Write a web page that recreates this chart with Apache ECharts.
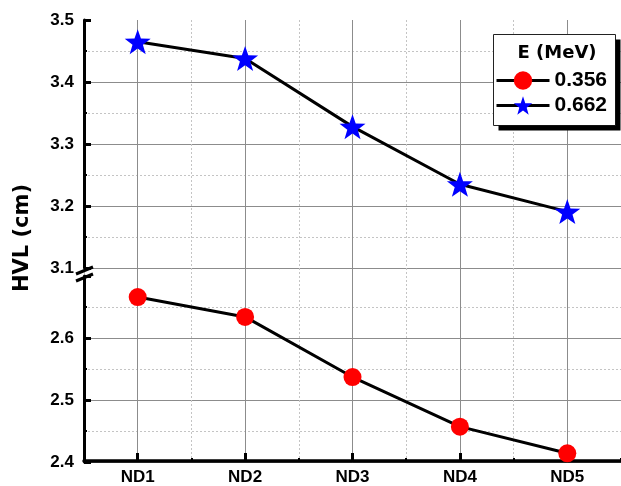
<!DOCTYPE html>
<html><head><meta charset="utf-8">
<script src="https://cdn.jsdelivr.net/npm/echarts@6/dist/echarts.min.js"></script>
<style>html,body{margin:0;padding:0;background:#fff}#c{width:621px;height:486px}</style>
</head><body><div id="c"></div>
<script>
// ---- data ----
const categories = ['ND1', 'ND2', 'ND3', 'ND4', 'ND5'];
const seriesNames = ['0.356', '0.662'];
const hvl0356 = [2.666, 2.634, 2.537, 2.457, 2.414];
const hvl0662 = [3.465, 3.438, 3.328, 3.235, 3.191];
const upperRange = [3.1, 3.5];
const lowerRange = [2.4, 2.7];
const yStep = 0.1;
const legendTitle = 'E (MeV)';
const yTitle = 'HVL (cm)';

// ---- styles ----
const numFont = 'Liberation Sans, Arial, sans-serif';
const titleFont = 'DejaVu Sans, sans-serif';
const STAR = 'path://M0,-10 L2.35,-3.24 L9.51,-3.09 L3.80,1.24 L5.88,8.09 L0,4 L-5.88,8.09 L-3.80,1.24 L-9.51,-3.09 L-2.35,-3.24 Z';
const GL = 84, GW = 547, TOP = 20, BOTTOM = 462, UPPER_H = 248, GAP = 8;
const BOX = {x: 493, y: 34, w: 122, h: 91, sh: 5};

const chart = echarts.init(document.getElementById('c'), null, {renderer: 'canvas'});

function valueAxis(gridIndex, range) {
  return {
    type: 'value', gridIndex: gridIndex, min: range[0], max: range[1], interval: yStep,
    axisLine: {show: true, onZero: false, lineStyle: {color: '#000', width: 3}},
    axisTick: {show: true, inside: true, length: 7, lineStyle: {color: '#000', width: 3}},
    minorTick: {show: true, splitNumber: 2, length: 3, lineStyle: {color: '#000', width: 2}},
    axisLabel: {
      show: true, margin: 10, color: '#000', fontFamily: numFont, fontWeight: 'bold', fontSize: 17,
      showMaxLabel: gridIndex === 1, formatter: v => v.toFixed(1)
    },
    splitLine: {show: true, showMaxLine: false, lineStyle: {color: '#8c8c8c', width: 1}},
    minorSplitLine: {show: true, lineStyle: {color: '#c4c4c4', width: 1, type: [2, 2]}}
  };
}

const fx = BOX.x + 0.5, fy = BOX.y + 0.5;
const rx = fx + BOX.w, by = fy + BOX.h;

const option = {
  animation: false,
  backgroundColor: '#fff',
  grid: [
    {left: GL, width: GW, top: TOP, height: BOTTOM - TOP},
    {left: GL, width: GW, top: TOP, height: UPPER_H},
    {left: GL, width: GW, top: TOP + UPPER_H + GAP, height: BOTTOM - (TOP + UPPER_H + GAP)}
  ],
  xAxis: [
    { // main axis: labels, center ticks, solid vertical grid
      type: 'category', gridIndex: 0, data: categories, boundaryGap: true,
      axisLine: {show: true, lineStyle: {color: '#000', width: 3.5}},
      axisTick: {show: true, inside: true, alignWithLabel: true, length: 8, lineStyle: {color: '#000', width: 3}},
      axisLabel: {show: true, margin: 8, color: '#000', fontFamily: numFont, fontWeight: 'bold', fontSize: 17},
      splitLine: {show: true, alignWithLabel: true, lineStyle: {color: '#8c8c8c', width: 1}}
    },
    { // boundary minor ticks & dotted grid
      type: 'category', gridIndex: 0, data: categories, boundaryGap: true, position: 'bottom',
      axisLine: {show: false},
      axisTick: {show: true, inside: true, length: 3, lineStyle: {color: '#000', width: 2}},
      axisLabel: {show: false},
      splitLine: {show: true, lineStyle: {color: '#c4c4c4', width: 1, type: [2, 2]}}
    },
    {type: 'category', gridIndex: 1, data: categories, boundaryGap: true, show: false},
    {type: 'category', gridIndex: 2, data: categories, boundaryGap: true, show: false}
  ],
  yAxis: [
    {type: 'value', gridIndex: 0, show: false, min: 0, max: 1},
    valueAxis(1, upperRange),
    valueAxis(2, lowerRange)
  ],
  legend: {
    orient: 'vertical', left: BOX.x, top: BOX.y, z: 120,
    padding: [36, 9, 7, 2],
    itemWidth: 53, itemHeight: 23, itemGap: 4,
    backgroundColor: 'transparent', borderWidth: 0,
    lineStyle: {width: 3, color: '#000'},
    textStyle: {color: '#000', fontFamily: numFont, fontWeight: 'bold', fontSize: 21},
    data: seriesNames
  },
  graphic: {
    elements: [
      {type: 'rect', id: 'boxFace', z: 111, shape: {x: fx, y: fy, width: BOX.w, height: BOX.h}, style: {fill: '#fff', stroke: '#222', lineWidth: 1}},
      {type: 'polyline', id: 'shadow', zlevel: 1, z: 0,
        shape: {points: [[rx + BOX.sh / 2, fy + BOX.sh], [rx + BOX.sh / 2, by + BOX.sh / 2], [fx + BOX.sh, by + BOX.sh / 2]]},
        style: {stroke: '#000', lineWidth: BOX.sh, fill: null, lineJoin: 'miter', lineCap: 'butt'}},
      {type: 'text', id: 'ltitle', z: 130, x: 557, y: 53, style: {text: legendTitle, fill: '#000', font: 'bold 18px ' + titleFont, align: 'center', verticalAlign: 'middle'}},
      {type: 'text', id: 'ytitle', z: 100, rotation: Math.PI / 2, x: 23, y: 238,
        style: {text: yTitle, fill: '#000', font: 'bold 21px ' + titleFont, align: 'center', verticalAlign: 'middle'}},
      {type: 'line', id: 'brk1', z: 100, shape: {x1: 76, y1: 274, x2: 93, y2: 267}, style: {stroke: '#000', lineWidth: 3}},
      {type: 'line', id: 'brk2', z: 100, shape: {x1: 76, y1: 281, x2: 93, y2: 274}, style: {stroke: '#000', lineWidth: 3}}
    ]
  },
  series: [
    {
      name: seriesNames[0], type: 'line', xAxisIndex: 3, yAxisIndex: 2, data: hvl0356,
      symbol: 'circle', symbolSize: 18, z: 5,
      lineStyle: {color: '#000', width: 3}, itemStyle: {color: '#ff0000'}
    },
    {
      name: seriesNames[1], type: 'line', xAxisIndex: 2, yAxisIndex: 1, data: hvl0662,
      symbol: STAR, symbolSize: [26, 25], z: 5,
      lineStyle: {color: '#000', width: 3}, itemStyle: {color: '#0000ff'}
    }
  ]
};
chart.setOption(option);
</script>
</body></html>
